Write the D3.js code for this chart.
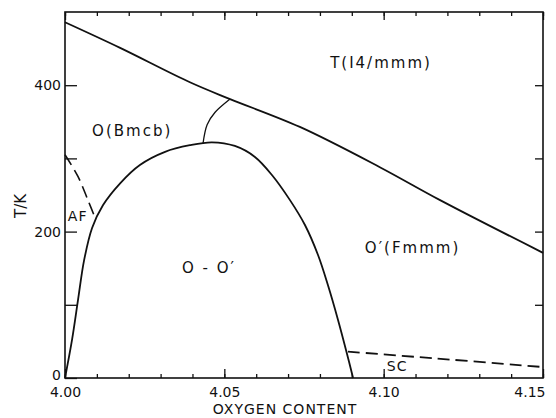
<!DOCTYPE html>
<html>
<head>
<meta charset="utf-8">
<script src="https://cdn.jsdelivr.net/npm/d3@7/dist/d3.min.js"></script>
<style>
  body { margin: 0; background: #fff; }
  svg text { font-family: "DejaVu Sans", sans-serif; fill: #111; }
</style>
</head>
<body>
<svg id="chart" width="556" height="418"></svg>
<script>
// phase boundaries, [oxygen content, T in K]
const upperLine = [[4.0, 486], [4.0173, 451], [4.0392, 404], [4.0518, 381], [4.0737, 343],
  [4.0988, 288], [4.1177, 243], [4.15, 171]];
const domeLine = [[4.0, 0], [4.0022, 52], [4.0041, 107], [4.006, 161], [4.0085, 205],
  [4.0119, 236], [4.0173, 266], [4.0235, 291], [4.0314, 309], [4.0392, 318], [4.0461, 322],
  [4.0533, 317], [4.0596, 302], [4.065, 277], [4.0706, 243], [4.0753, 209], [4.0794, 168],
  [4.0825, 127], [4.0857, 79], [4.0882, 38], [4.0904, 0]];
const bmcbLine = [[4.0433, 320], [4.0446, 346], [4.0471, 363], [4.0518, 381]];
const afLine = [[4.0, 305], [4.0041, 275], [4.0072, 243], [4.0097, 216]];
const scLine = [[4.0888, 36], [4.1155, 27], [4.15, 15]];

// phase labels: text, left x, centre T
const phaseNames = ["T(I4/mmm)", "O(Bmcb)", "AF", "O - O\u2032", "O\u2032(Fmmm)", "SC"];
const phaseAt = [[4.0832, 430], [4.0085, 337], [4.0009, 221], [4.0367, 150], [4.0941, 178], [4.101, 16]];

const xTicks = [4.0, 4.05, 4.1, 4.15];
const yTicks = [0, 100, 200, 300, 400];
const yLabelled = [0, 200, 400];

const svg = d3.select("#chart");

const x = d3.scaleLinear().domain([4.0, 4.15]).range([65, 543]);
const y = d3.scaleLinear().domain([0, 500]).range([378, 12]);

const minorX = d3.range(0, 16).map((i) => 4.0 + i * 0.01);
const fmt = d3.format(".2f");

// bottom axis: small ticks every 0.01, bigger at 0.05
svg.append("g")
  .attr("transform", `translate(0,${y(0)})`)
  .call(d3.axisBottom(x).tickValues(minorX).tickSize(-4).tickFormat(""))
  .call((g) => g.select(".domain").remove());
svg.append("g")
  .attr("class", "xmaj")
  .attr("transform", `translate(0,${y(0)})`)
  .call(d3.axisBottom(x).tickValues(xTicks).tickSize(-9).tickPadding(9).tickFormat(fmt))
  .call((g) => g.select(".domain").remove());
// last label sits inside the right edge
svg.selectAll(".xmaj .tick text")
  .filter((d) => d === 4.15)
  .attr("text-anchor", "end")
  .attr("dx", 2);

// top axis, inward, no labels
svg.append("g")
  .attr("transform", `translate(0,${y(500)})`)
  .call(d3.axisTop(x).tickValues(minorX).tickSize(-4).tickFormat(""))
  .call((g) => g.select(".domain").remove());
svg.append("g")
  .attr("transform", `translate(0,${y(500)})`)
  .call(d3.axisTop(x).tickValues(xTicks).tickSize(-8).tickFormat(""))
  .call((g) => g.select(".domain").remove());

// left axis
svg.append("g")
  .attr("class", "yax")
  .attr("transform", `translate(${x(4.0)},0)`)
  .call(d3.axisLeft(y).tickValues(yTicks).tickSize(-12).tickPadding(4)
    .tickFormat((d) => (yLabelled.includes(d) ? d : "")))
  .call((g) => g.select(".domain").remove());
svg.selectAll(".yax .tick text").filter((d) => d === 0).attr("dy", "0.1em");

// right axis
svg.append("g")
  .attr("transform", `translate(${x(4.15)},0)`)
  .call(d3.axisRight(y).tickValues(yTicks.slice(1)).tickSize(-8).tickFormat(""))
  .call((g) => g.select(".domain").remove());

svg.selectAll(".tick line").attr("stroke", "#111").attr("stroke-width", 1.3);
svg.selectAll(".tick text").style("font-size", "14px").attr("fill", "#111");

// frame
svg.append("rect")
  .attr("x", x(4.0))
  .attr("y", y(500))
  .attr("width", x(4.15) - x(4.0))
  .attr("height", y(0) - y(500))
  .attr("fill", "none")
  .attr("stroke", "#111")
  .attr("stroke-width", 1.6);

const line = d3.line()
  .x((d) => x(d[0]))
  .y((d) => y(d[1]))
  .curve(d3.curveCatmullRom.alpha(0.5));

function drawCurve(data, dashed, width) {
  svg.append("path")
    .datum(data)
    .attr("d", line)
    .attr("fill", "none")
    .attr("stroke", "#111")
    .attr("stroke-width", width)
    .attr("stroke-dasharray", dashed ? "12,6" : null);
}

drawCurve(upperLine, false, 1.8);
drawCurve(domeLine, false, 1.8);
drawCurve(bmcbLine, false, 1.3);
drawCurve(afLine, true, 1.6);
drawCurve(scLine, true, 1.8);

// phase labels
svg.selectAll(".phase")
  .data(phaseNames)
  .join("text")
  .attr("class", "phase")
  .attr("x", (d, i) => x(phaseAt[i][0]))
  .attr("y", (d, i) => y(phaseAt[i][1]))
  .attr("dominant-baseline", "central")
  .style("font-size", (d) => (d === "AF" || d === "SC" ? "14px" : "15px"))
  .style("letter-spacing", (d) => (d === "AF" || d === "SC" ? "1px" : "2px"))
  .text((d) => d);

// axis titles
svg.append("text")
  .attr("x", 285)
  .attr("y", 409)
  .attr("text-anchor", "middle")
  .attr("dominant-baseline", "central")
  .style("font-size", "14px")
  .style("letter-spacing", "1px")
  .text("OXYGEN CONTENT");

svg.append("text")
  .attr("transform", `translate(21,${y(235)}) rotate(-90)`)
  .attr("text-anchor", "middle")
  .attr("dominant-baseline", "central")
  .style("font-size", "15px")
  .text("T/K");
</script>
</body>
</html>
